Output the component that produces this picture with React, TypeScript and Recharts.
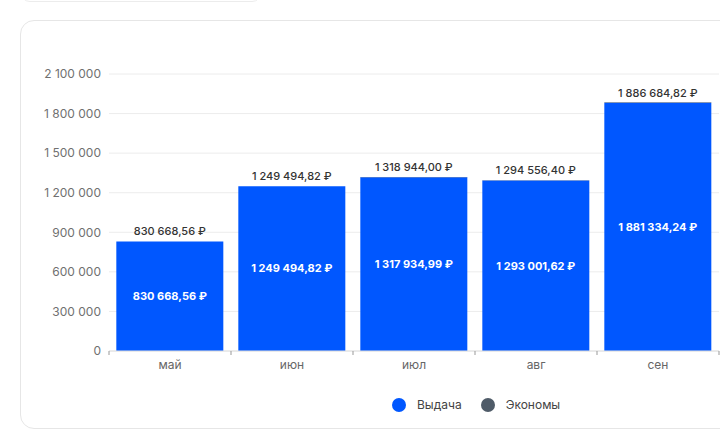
import React from 'react';
import { BarChart, Bar, XAxis, YAxis, CartesianGrid, Legend, LabelList } from 'recharts';

const months = ['май', 'июн', 'июл', 'авг', 'сен'];
const vydacha = [830668.56, 1249494.82, 1317934.99, 1293001.62, 1881334.24];
const totals = [830668.56, 1249494.82, 1318944.0, 1294556.4, 1886684.82];
const yTicks = [0, 300000, 600000, 900000, 1200000, 1500000, 1800000, 2100000];

const BLUE = '#0057ff';
const GREY = '#4f5b68';
const FONT = 'Inter, "Noto Sans", sans-serif';

const data = months.map((m, i) => ({
  month: m,
  vydacha: vydacha[i],
  economy: Math.round((totals[i] - vydacha[i]) * 100) / 100,
  total: totals[i],
}));

const groupInt = (n: number) => String(Math.trunc(n)).replace(/\B(?=(\d{3})+(?!\d))/g, ' ');
const fmtTick = (v: number) => groupInt(v);
const fmtRub = (v: number) => {
  const [, dec] = v.toFixed(2).split('.');
  return `${groupInt(v)},${dec} ₽`;
};

const BAND = 122;

const MonthTick = (props: any) => {
  const { x, y, payload, index } = props;
  const half = BAND / 2;
  return (
    <g>
      <line x1={x - half} x2={x - half} y1={y - 8} y2={y - 4} stroke="#999" />
      {index === months.length - 1 && (
        <line x1={x + half} x2={x + half} y1={y - 8} y2={y - 4} stroke="#999" />
      )}
      <text x={x} y={y + 10} textAnchor="middle" fill="#666" fontSize={12} fontFamily={FONT}>
        {payload.value}
      </text>
    </g>
  );
};

const LegendContent = () => (
  <div style={{ display: 'flex', alignItems: 'center', paddingLeft: 371, paddingTop: 16, fontFamily: FONT, fontSize: 12, color: '#444' }}>
    {[
      { name: 'Выдача', color: BLUE },
      { name: 'Экономы', color: GREY },
    ].map((it) => (
      <div key={it.name} style={{ display: 'flex', alignItems: 'center', marginRight: 19 }}>
        <span style={{ width: 14, height: 14, borderRadius: 7, background: it.color, display: 'inline-block', marginRight: 11 }} />
        {it.name}
      </div>
    ))}
  </div>
);

export default function App() {
  return (
    <div style={{ position: 'fixed', left: 0, top: 0, width: 720, height: 430, overflow: 'hidden', background: '#fff' }}>
      <div style={{ position: 'absolute', left: 20, top: -22, width: 240, height: 22, border: '1px solid #ececec', borderRadius: 10 }} />
      <div style={{ position: 'absolute', left: 20, top: 20, width: 760, height: 407, border: '1px solid #e6e6e6', borderRadius: 14 }}>
        <BarChart
          width={740}
          height={408}
          data={data}
          margin={{ top: 53, right: 42, bottom: 8, left: 0 }}
          barCategoryGap="6%"
        >
          <CartesianGrid vertical={false} stroke="#ececec" />
          <XAxis
            dataKey="month"
            height={30}
            tickLine={false}
            axisLine={{ stroke: '#e0e0e0' }}
            tick={<MonthTick />}
            interval={0}
          />
          <YAxis
            width={88}
            domain={[0, 2100000]}
            ticks={yTicks}
            tickFormatter={fmtTick}
            tickLine={false}
            axisLine={false}
            tick={{ fill: '#707070', fontSize: 12, fontFamily: FONT }}
          />
          <Legend verticalAlign="bottom" height={40} content={<LegendContent />} wrapperStyle={{ left: 0, width: 740 }} />
          <Bar dataKey="vydacha" name="Выдача" stackId="a" fill={BLUE} isAnimationActive={false}>
            <LabelList
              dataKey="vydacha"
              position="center"
              formatter={(v: any) => fmtRub(Number(v))}
              fill="#fff"
              fontSize={11}
              fontWeight={700}
              fontFamily={FONT}
            />
            <LabelList
              dataKey="total"
              position="top"
              offset={6}
              formatter={(v: any) => fmtRub(Number(v))}
              fill="#333"
              fontSize={11}
              fontWeight={500}
              fontFamily={FONT}
            />
          </Bar>
          <Bar dataKey="economy" name="Экономы" stackId="a" fill={GREY} isAnimationActive={false} />
        </BarChart>
      </div>
    </div>
  );
}
